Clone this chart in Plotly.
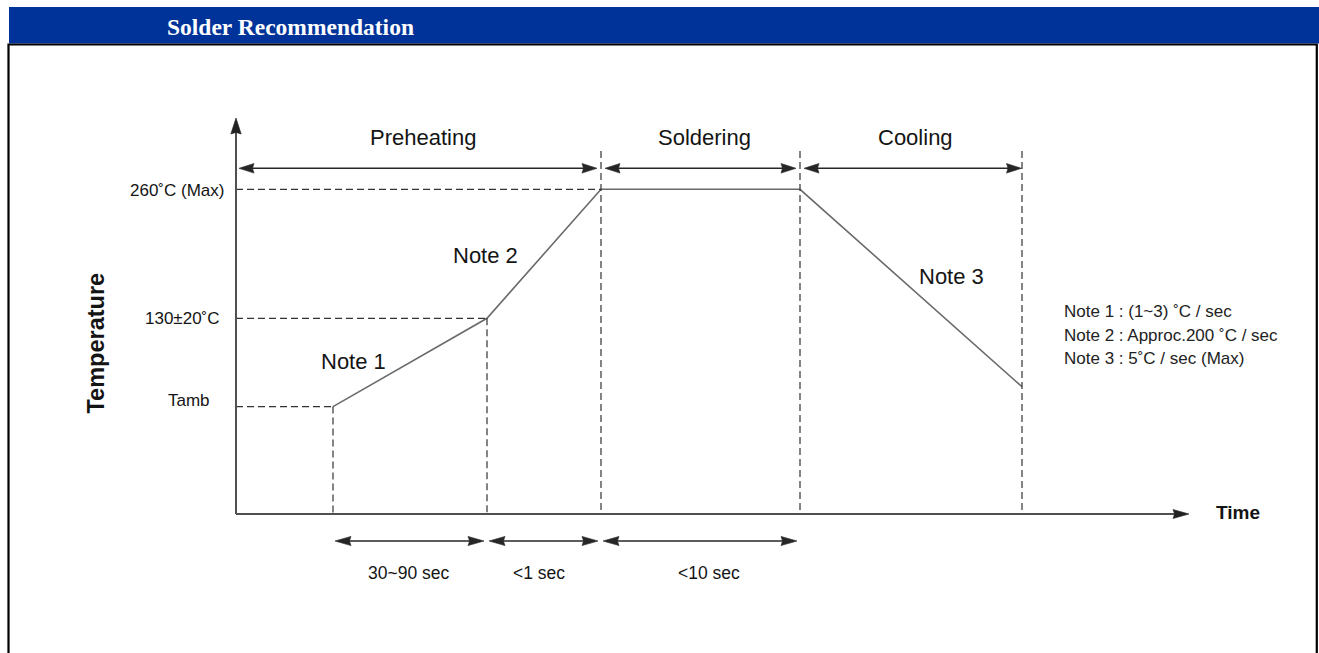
import plotly.graph_objects as go

# ---------------- data ----------------
time_pts = [97, 251, 365, 564, 786]          # schematic time of profile breakpoints
temp_pts = [41, 130, 260, 260, 61]           # temperature at breakpoints (schematic °C)
tick_vals = [41, 130, 260]
tick_text = ["Tamb", "130±20˚C", "260˚C (Max)"]
phase_names = ["Preheating", "Soldering", "Cooling"]
phase_edges = [0, 365, 564, 786]
interval_names = ["30~90 sec", "<1 sec", "<10 sec"]
interval_edges = [97, 251, 365, 564]
note_labels = ["Note 1", "Note 2", "Note 3"]
notes = ["Note 1 : (1~3) ˚C / sec", "Note 2 : Approc.200 ˚C / sec", "Note 3 : 5˚C / sec (Max)"]
title = "Solder Recommendation"

# ---------------- geometry / style ----------------
W, H = 1319, 653
X0_PX = 236.0
Y_REF_PX, T_REF, KY = 318.3, 130.0, 129.0 / 130.0
x_range = [-X0_PX, W - X0_PX]
y_range = [T_REF - (H - Y_REF_PX) / KY, T_REF + Y_REF_PX / KY]


def px_x(px):
    return px - X0_PX


def px_y(py):
    return T_REF - (py - Y_REF_PX) / KY


def to_px(x, y):
    return x + X0_PX, Y_REF_PX - (y - T_REF) * KY


FONT = "Liberation Sans, Arial, sans-serif"
TXT = "#141414"
AXIS_C = "#505050"
ARR_C = "#262626"
DASH_C = "#333333"
PROF_C = "#6a6a6a"

shapes = []
annotations = []


def line(x0, y0, x1, y1, color, width, dash=None):
    d = dict(type="line", xref="x", yref="y", x0=x0, y0=y0, x1=x1, y1=y1,
             line=dict(color=color, width=width))
    if dash:
        d["line"]["dash"] = dash
    shapes.append(d)


def head(tx, ty, dx, dy, color, L=15, hw=4.8):
    # tip in data coords; (dx, dy) direction in pixel space (y down)
    px, py = to_px(tx, ty)
    bx, by = px - dx * L, py - dy * L
    nx, ny = -dy, dx
    mx, my = px - dx * L * 0.9, py - dy * L * 0.9
    pts = [(px, py), (bx + nx * hw, by + ny * hw), (mx, my), (bx - nx * hw, by - ny * hw)]
    path = "M " + " L ".join(f"{px_x(a):.2f},{px_y(b):.3f}" for a, b in pts) + " Z"
    shapes.append(dict(type="path", xref="x", yref="y", path=path,
                       fillcolor=color, line=dict(color=color, width=0.6)))


def dbl_arrow(xa, xb, y, color, inset_a=3, inset_b=3, L=15, hw=4.8):
    a, b = xa + inset_a, xb - inset_b
    line(a + L * 0.8, y, b - L * 0.8, y, color, 1.6)
    head(a, y, -1, 0, color, L, hw)
    head(b, y, 1, 0, color, L, hw)


# header band + frame
shapes.append(dict(type="rect", xref="paper", yref="paper", x0=9 / W, x1=1.0,
                   y0=1 - 43.5 / H, y1=1 - 7 / H, fillcolor="#003399", line=dict(width=0),
                   layer="below"))
shapes.append(dict(type="rect", xref="paper", yref="paper", x0=8.5 / W, x1=1316.8 / W,
                   y0=-0.2, y1=1 - 44.5 / H, line=dict(color="black", width=2.2)))
annotations.append(dict(xref="paper", yref="paper", x=165 / W, y=1 - 27 / H,
                        xanchor="left", yanchor="middle", showarrow=False,
                        text="<b>" + title + "</b>",
                        font=dict(family="Liberation Serif, Times New Roman, serif",
                                  size=23.5, color="white")))

# dashed guide lines
for i in range(3):
    line(0, temp_pts[i], time_pts[i], temp_pts[i], DASH_C, 1.2, "7px,4px")
axis_y = px_y(514)
for i in range(2):
    line(time_pts[i], temp_pts[i], time_pts[i], axis_y, DASH_C, 1.2, "7px,4px")
for e in phase_edges[1:]:
    line(e, px_y(151), e, axis_y, DASH_C, 1.2, "7px,4px")

# axes with arrows
x_tip = px_x(1189)
y_tip_px = 118
line(0, axis_y, x_tip - 12, axis_y, AXIS_C, 2)
head(x_tip, axis_y, 1, 0, "#222222", L=16, hw=4.5)
line(0, axis_y, 0, px_y(y_tip_px + 12), AXIS_C, 2)
head(0, px_y(y_tip_px), 0, -1, "#222222", L=16, hw=5.2)

# phase arrows + labels
y_ph = px_y(168.3)
for i, name in enumerate(phase_names):
    a, b = phase_edges[i], phase_edges[i + 1]
    dbl_arrow(a, b, y_ph, ARR_C, inset_a=3 if i == 0 else 4, inset_b=0.5 if i == 2 else 4)
    annotations.append(dict(x=(a + b) / 2, y=px_y(137.5), text=name, showarrow=False,
                            xshift=4, font=dict(family=FONT, size=22, color=TXT)))

# interval arrows + labels
y_iv = px_y(541)
iv_shift = [-2, -5, 8]
for i, name in enumerate(interval_names):
    a, b = interval_edges[i], interval_edges[i + 1]
    dbl_arrow(a, b, y_iv, ARR_C, inset_a=2, inset_b=3, L=16, hw=4.6)
    annotations.append(dict(x=(a + b) / 2, y=px_y(573), text=name, showarrow=False,
                            xshift=iv_shift[i], font=dict(family=FONT, size=17.5, color=TXT)))

# y tick labels
tick_xs = [-14, -4, 0]
tick_ys = [6, 0, -1]
for v, t, xs, ys in zip(tick_vals, tick_text, tick_xs, tick_ys):
    annotations.append(dict(x=px_x(226), y=v, text=t, showarrow=False, xanchor="right",
                            xshift=xs, yshift=ys, font=dict(family=FONT, size=17, color=TXT)))

# note labels on the curve
note_pos = [(353.3, 361.7), (485.5, 255), (951.7, 276)]
for lab, (nx, ny) in zip(note_labels, note_pos):
    annotations.append(dict(x=px_x(nx), y=px_y(ny), text=lab, showarrow=False,
                            font=dict(family=FONT, size=22, color=TXT)))

# note legend
for i, t in enumerate(notes):
    annotations.append(dict(x=px_x(1062), y=px_y(311.7 + 23.3 * i), text=t, showarrow=False,
                            xanchor="left", font=dict(family=FONT, size=17, color="#222222")))

# axis titles
annotations.append(dict(x=px_x(95), y=px_y(343.5), text="<b>Temperature</b>", textangle=-90,
                        showarrow=False, font=dict(family=FONT, size=23.5, color=TXT)))
annotations.append(dict(x=px_x(1238), y=px_y(512.5), text="<b>Time</b>", showarrow=False,
                        font=dict(family=FONT, size=19, color=TXT)))

fig = go.Figure()
fig.add_trace(go.Scatter(x=time_pts, y=temp_pts, mode="lines",
                         line=dict(color=PROF_C, width=1.6), hoverinfo="skip",
                         showlegend=False))
fig.update_layout(
    width=W, height=H, margin=dict(l=0, r=0, t=0, b=0),
    paper_bgcolor="white", plot_bgcolor="white",
    xaxis=dict(range=x_range, visible=False, fixedrange=True),
    yaxis=dict(range=y_range, visible=False, fixedrange=True),
    shapes=shapes, annotations=annotations, showlegend=False,
)
fig.write_html("out.html", config={"displayModeBar": False},
               post_script="document.body.style.margin='0';document.body.style.overflow='hidden';")
